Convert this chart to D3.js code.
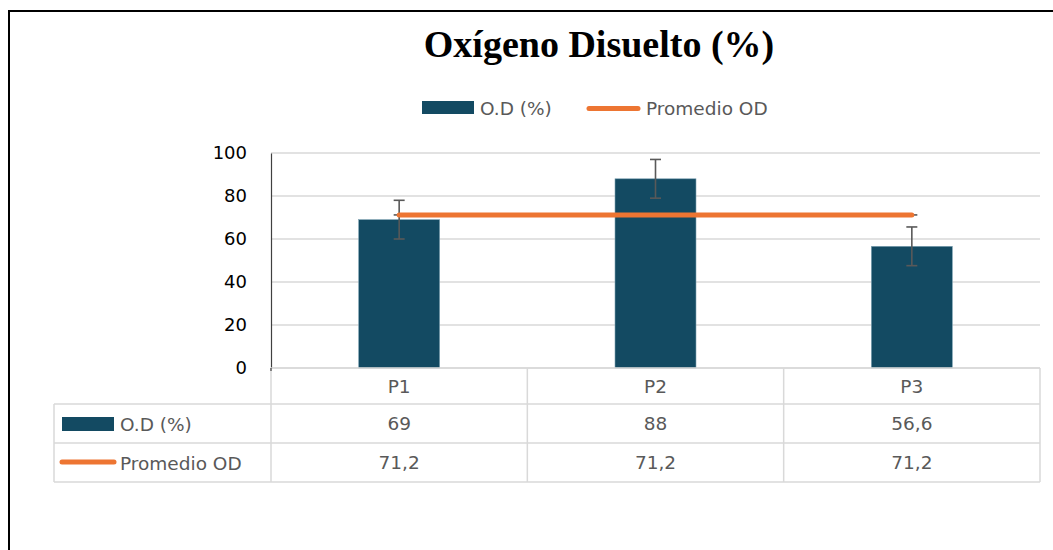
<!DOCTYPE html>
<html>
<head>
<meta charset="utf-8">
<script src="https://cdn.jsdelivr.net/npm/d3@7"></script>
<style>
  body { margin: 0; background: #fff; }
  svg text { font-family: "DejaVu Sans", "Liberation Sans", Arial, sans-serif; }
</style>
</head>
<body>
<svg id="chart" width="1053" height="550"></svg>
<script>
// Data
var categories = ['P1', 'P2', 'P3'];
var odValues = [69, 88, 56.6];
var odLabels = ['69', '88', '56,6'];
var avgValues = [71.2, 71.2, 71.2];
var avgLabels = ['71,2', '71,2', '71,2'];
var errorValues = [9, 9, 9];
var yTicks = [0, 20, 40, 60, 80, 100];

var barColor = '#134a62',
    lineColor = '#ed7532',
    gridColor = '#d9d9d9',
    textColor = '#595959',
    fontSize = '18.5px';

var svg = d3.select('#chart');

// outer frame (only left and top edges are visible in the picture)
svg.append('rect')
  .attr('x', 9).attr('y', 11)
  .attr('width', 1200).attr('height', 700)
  .attr('fill', 'none').attr('stroke', '#000').attr('stroke-width', 2);

// plot area
var plotLeft = 271, plotRight = 1040, plotTop = 153, plotBottom = 368;

var y = d3.scaleLinear().domain([0, 100]).range([plotBottom, plotTop]);

// bar scale, padding chosen so bars are ~81px wide and centred in columns
var x = d3.scaleBand()
  .domain(categories)
  .range([plotLeft, plotRight])
  .paddingInner(0.684)
  .paddingOuter(0.342);

// column scale for the data table
var col = d3.scaleBand().domain(categories).range([plotLeft, plotRight]);

// Title
svg.append('text')
  .attr('x', 599).attr('y', 57)
  .attr('text-anchor', 'middle')
  .style('font-family', '"Liberation Serif", "Times New Roman", serif')
  .style('font-weight', 'bold')
  .style('font-size', '38px')
  .attr('fill', '#000')
  .text('Oxígeno Disuelto (%)');

// Top legend
var legend = svg.append('g');
legend.append('rect')
  .attr('x', 422).attr('y', 101).attr('width', 52).attr('height', 13)
  .attr('fill', barColor);
legend.append('text')
  .attr('x', 480).attr('y', 114.5)
  .attr('fill', textColor).style('font-size', fontSize)
  .text('O.D (%)');
legend.append('line')
  .attr('x1', 589).attr('x2', 638).attr('y1', 108.5).attr('y2', 108.5)
  .attr('stroke', lineColor).attr('stroke-width', 5).attr('stroke-linecap', 'round');
legend.append('text')
  .attr('x', 646).attr('y', 114.5)
  .attr('fill', textColor).style('font-size', fontSize)
  .text('Promedio OD');

// gridlines
svg.append('g')
  .selectAll('line')
  .data(yTicks)
  .enter()
  .append('line')
  .attr('x1', plotLeft).attr('x2', plotRight)
  .attr('y1', function(d) { return y(d); })
  .attr('y2', function(d) { return y(d); })
  .attr('stroke', gridColor).attr('stroke-width', 1.5);

// y axis
var yAxis = svg.append('g')
  .attr('transform', 'translate(' + plotLeft + ',0)')
  .call(d3.axisLeft(y).tickValues(yTicks).tickSize(0).tickPadding(24));
yAxis.select('.domain').attr('stroke', '#404040').attr('stroke-width', 1.2);
yAxis.selectAll('text')
  .style('font-size', '18px')
  .style('font-family', '"DejaVu Sans", "Liberation Sans", Arial, sans-serif')
  .attr('fill', '#000');

// bars
svg.append('g')
  .selectAll('rect')
  .data(odValues)
  .enter()
  .append('rect')
  .attr('x', function(d, i) { return x(categories[i]); })
  .attr('y', function(d) { return y(d); })
  .attr('width', x.bandwidth())
  .attr('height', function(d) { return y(0) - y(d); })
  .attr('fill', barColor)
  .attr('stroke', '#7fa2b3').attr('stroke-width', 0.6);

// error bars
var errG = svg.append('g').attr('stroke', '#595959').attr('stroke-width', 1.6);
odValues.forEach(function(v, i) {
  var cx = x(categories[i]) + x.bandwidth() / 2;
  var hi = y(v + errorValues[i]), lo = y(v - errorValues[i]);
  errG.append('line').attr('x1', cx).attr('x2', cx).attr('y1', hi).attr('y2', lo);
  errG.append('line').attr('x1', cx - 5.5).attr('x2', cx + 5.5).attr('y1', hi).attr('y2', hi);
  errG.append('line').attr('x1', cx - 5.5).attr('x2', cx + 5.5).attr('y1', lo).attr('y2', lo);
});

// zero-length error caps of the average series at its ends
[0, avgValues.length - 1].forEach(function(i) {
  var cx = x(categories[i]) + x.bandwidth() / 2;
  errG.append('line')
    .attr('x1', cx - 5.5).attr('x2', cx + 5.5)
    .attr('y1', y(avgValues[i])).attr('y2', y(avgValues[i]));
});

// average line
var line = d3.line()
  .x(function(d, i) { return x(categories[i]) + x.bandwidth() / 2; })
  .y(function(d) { return y(d); });

svg.append('path')
  .datum(avgValues)
  .attr('d', line)
  .attr('fill', 'none')
  .attr('stroke', lineColor)
  .attr('stroke-width', 5)
  .attr('stroke-linecap', 'round');

// Data table
var rowTops = [plotBottom, 404, 443, 482];
var tableLeft = 54;
var tbl = svg.append('g').attr('stroke', gridColor).attr('stroke-width', 1.5);

// horizontal rules
tbl.append('line').attr('x1', plotLeft).attr('x2', plotRight).attr('y1', rowTops[0]).attr('y2', rowTops[0]);
[rowTops[1], rowTops[2], rowTops[3]].forEach(function(yy) {
  tbl.append('line').attr('x1', tableLeft).attr('x2', plotRight).attr('y1', yy).attr('y2', yy);
});
// vertical rules
tbl.append('line').attr('x1', tableLeft).attr('x2', tableLeft).attr('y1', rowTops[1]).attr('y2', rowTops[3]);
categories.forEach(function(c) {
  tbl.append('line').attr('x1', col(c)).attr('x2', col(c)).attr('y1', rowTops[0]).attr('y2', rowTops[3]);
});
tbl.append('line').attr('x1', plotRight).attr('x2', plotRight).attr('y1', rowTops[0]).attr('y2', rowTops[3]);

// short dark extension of the y axis below the plot
svg.append('line')
  .attr('x1', plotLeft).attr('x2', plotLeft).attr('y1', plotBottom).attr('y2', plotBottom + 3)
  .attr('stroke', '#404040').attr('stroke-width', 1.2);

function cellText(rowIdx, labels) {
  var mid = (rowTops[rowIdx] + rowTops[rowIdx + 1]) / 2;
  svg.append('g')
    .selectAll('text')
    .data(labels)
    .enter()
    .append('text')
    .attr('x', function(d, i) { return col(categories[i]) + col.bandwidth() / 2; })
    .attr('y', mid + 6.5)
    .attr('text-anchor', 'middle')
    .attr('fill', textColor)
    .style('font-size', fontSize)
    .text(function(d) { return d; });
}
cellText(0, categories);
cellText(1, odLabels);
cellText(2, avgLabels);

// table row keys
svg.append('rect')
  .attr('x', 62).attr('y', 417).attr('width', 52).attr('height', 14)
  .attr('fill', barColor);
svg.append('text')
  .attr('x', 120).attr('y', 430.5)
  .attr('fill', textColor).style('font-size', fontSize)
  .text('O.D (%)');
svg.append('line')
  .attr('x1', 62).attr('x2', 114).attr('y1', 462).attr('y2', 462)
  .attr('stroke', lineColor).attr('stroke-width', 5).attr('stroke-linecap', 'round');
svg.append('text')
  .attr('x', 120).attr('y', 469.5)
  .attr('fill', textColor).style('font-size', fontSize)
  .text('Promedio OD');
</script>
</body>
</html>
